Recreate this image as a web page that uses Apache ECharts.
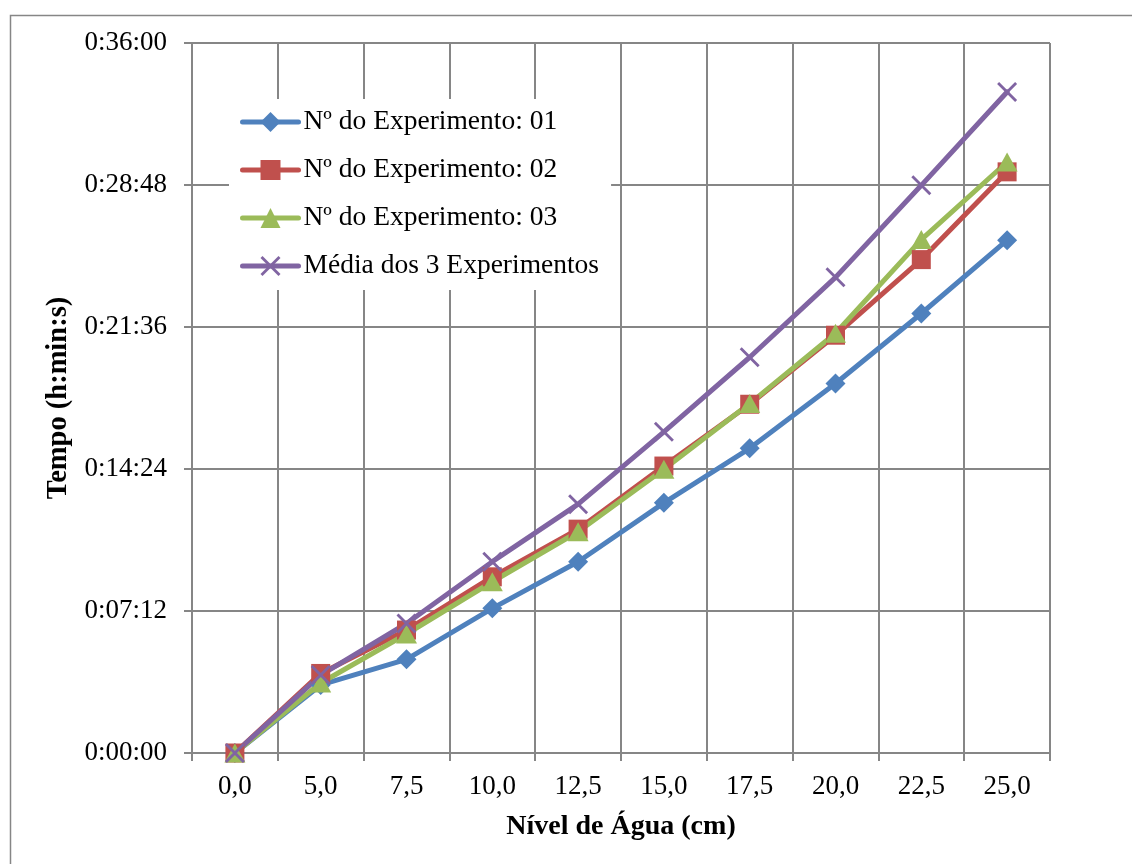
<!DOCTYPE html>
<html>
<head>
    <meta charset="UTF-8">
    <title>Tempo x Nível de Água</title>
    <style>
        html, body { margin: 0; padding: 0; background: #fff; }
        #main { width: 1132px; height: 864px; }
    </style>
</head>
<body>
<div id="main"></div>
<script src="https://cdn.jsdelivr.net/npm/echarts@6/dist/echarts.min.js"></script>
<script>
    // níveis de água (cm)
    var niveis = ['0,0', '5,0', '7,5', '10,0', '12,5', '15,0', '17,5', '20,0', '22,5', '25,0'];
    // tempos em segundos
    var exp01 = [0, 207, 285, 440, 582, 761, 927, 1124, 1337, 1560];
    var exp02 = [0, 242, 374, 536, 681, 873, 1061, 1271, 1501, 1768];
    var exp03 = [0, 213, 362, 521, 673, 863, 1063, 1277, 1562, 1798];
    var media = [0, 237, 394, 582, 757, 977, 1204, 1447, 1727, 2011];
    var nomes = ['Nº do Experimento: 01', 'Nº do Experimento: 02', 'Nº do Experimento: 03', 'Média dos 3 Experimentos'];

    var fonte = '"Liberation Serif", serif';
    var cinza = '#868686';
    var xis = 'path://M0,1L1,0L10,9L9,10Z M9,0L10,1L1,10L0,9Z';

    function hms(v) {
        var h = Math.floor(v / 3600);
        var m = Math.floor((v % 3600) / 60);
        var s = Math.round(v % 60);
        return h + ':' + (m < 10 ? '0' : '') + m + ':' + (s < 10 ? '0' : '') + s;
    }

    function serie(nome, dados, cor, simbolo, tam) {
        return {
            name: nome,
            type: 'line',
            data: dados,
            symbol: simbolo,
            symbolSize: tam,
            lineStyle: {color: cor, width: 5, cap: 'round'},
            itemStyle: {color: cor},
            emphasis: {disabled: true},
            animation: false
        };
    }

    var myChart = echarts.init(document.getElementById('main'));
    var option = {
        backgroundColor: '#fff',
        animation: false,
        graphic: [{
            type: 'rect',
            left: 8, top: 13,
            shape: {width: 1140, height: 900},
            style: {fill: 'none', stroke: cinza, lineWidth: 1.5},
            silent: true
        }],
        grid: {left: 192, top: 43, right: 82, bottom: 111},
        legend: {
            orient: 'vertical',
            left: 229, top: 99,
            padding: [9, 12, 10, 11],
            backgroundColor: '#fff',
            itemWidth: 56, itemHeight: 25, itemGap: 20,
            lineStyle: {width: 'inherit', cap: 'round'},
            textStyle: {fontFamily: fonte, fontSize: 27.5, color: '#000', lineHeight: 27},
            data: nomes
        },
        xAxis: {
            type: 'category',
            data: niveis,
            boundaryGap: true,
            name: 'Nível de Água (cm)',
            nameLocation: 'middle',
            nameGap: 60,
            nameTextStyle: {fontFamily: fonte, fontSize: 28, fontWeight: 'bold', color: '#000'},
            axisLine: {lineStyle: {color: cinza, width: 2}},
            axisTick: {show: true, length: 8, lineStyle: {color: cinza, width: 2}},
            axisLabel: {fontFamily: fonte, fontSize: 27, color: '#000', margin: 20},
            splitLine: {show: true, lineStyle: {color: cinza, width: 2}}
        },
        yAxis: {
            type: 'value',
            min: 0, max: 2160, interval: 432,
            name: 'Tempo (h:min:s)',
            nameLocation: 'middle',
            nameGap: 119,
            nameTextStyle: {fontFamily: fonte, fontSize: 28.5, fontWeight: 'bold', color: '#000'},
            axisLine: {show: true, lineStyle: {color: cinza, width: 2}},
            axisTick: {show: true, length: 8, lineStyle: {color: cinza, width: 2}},
            axisLabel: {fontFamily: fonte, fontSize: 27, color: '#000', margin: 25, formatter: hms},
            splitLine: {show: true, lineStyle: {color: cinza, width: 2}}
        },
        series: [
            serie(nomes[0], exp01, '#4F81BD', 'diamond', [20, 20]),
            serie(nomes[1], exp02, '#C0504D', 'rect', 19),
            serie(nomes[2], exp03, '#9BBB59', 'triangle', [21, 19]),
            serie(nomes[3], media, '#8064A2', xis, 20)
        ]
    };
    myChart.setOption(option);
</script>
</body>
</html>
